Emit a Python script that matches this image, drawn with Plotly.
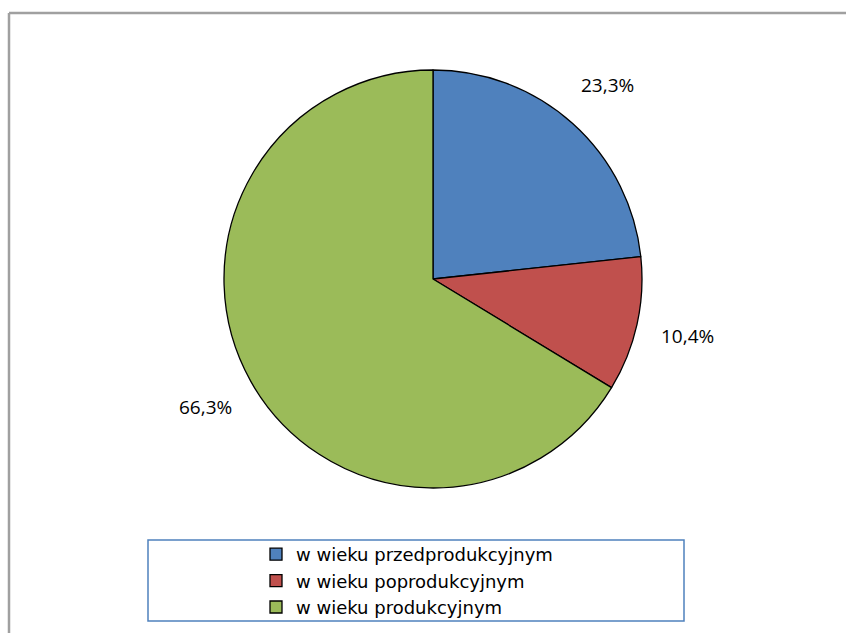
import math
import plotly.graph_objects as go

labels = ["w wieku przedprodukcyjnym", "w wieku poprodukcyjnym", "w wieku produkcyjnym"]
values = [23.3, 10.4, 66.3]
colors = ["#4F81BD", "#C0504D", "#9BBB59"]
text_labels = ["23,3%", "10,4%", "66,3%"]

W, H = 846, 633
cx, cy, R = 433, 279, 209
FONT = "Open Sans, Liberation Sans, sans-serif"

fig = go.Figure()
fig.add_trace(go.Pie(
    labels=labels, values=values, sort=False, direction="clockwise", rotation=0,
    marker=dict(colors=colors, line=dict(color="black", width=1.3)),
    textinfo="none", hoverinfo="label+percent",
    domain=dict(x=[(cx - R) / W, (cx + R) / W], y=[(H - cy - R) / H, (H - cy + R) / H]),
))

# outside data labels placed from slice mid-angles
total = sum(values)
cum = 0
annotations = []
for v, t in zip(values, text_labels):
    mid = (cum + v / 2) / total * 2 * math.pi
    cum += v
    r = R * 1.25
    px = cx + r * math.sin(mid)
    py = cy - r * math.cos(mid)
    annotations.append(dict(
        x=px / W, y=1 - py / H, xref="paper", yref="paper", text=t, showarrow=False,
        font=dict(family=FONT, size=19, color="black"),
        xanchor="center", yanchor="middle",
    ))

shapes = [
    dict(type="line", xref="paper", yref="paper", x0=9 / W, x1=1, y0=1 - 13 / H, y1=1 - 13 / H,
         line=dict(color="#A0A0A0", width=2.5)),
    dict(type="line", xref="paper", yref="paper", x0=9 / W, x1=9 / W, y0=0, y1=1 - 13 / H,
         line=dict(color="#A0A0A0", width=2.5)),
    dict(type="rect", xref="paper", yref="paper", x0=148 / W, x1=684 / W, y0=1 - 621 / H, y1=1 - 540 / H,
         line=dict(color="#4F81BD", width=1.5), fillcolor="rgba(0,0,0,0)"),
]

fig.update_layout(
    width=W, height=H, margin=dict(l=0, r=0, t=0, b=0),
    paper_bgcolor="white", plot_bgcolor="white",
    showlegend=True,
    legend=dict(x=256 / W, y=1 - 536 / H, xanchor="left", yanchor="top",
                font=dict(family="DejaVu Sans, sans-serif", size=18, color="black"),
                bgcolor="rgba(0,0,0,0)", tracegroupgap=0, itemwidth=30),
    annotations=annotations, shapes=shapes,
)

fig.write_html("out.html", config={"displayModeBar": False},
               post_script="document.body.style.margin='0';document.body.style.overflow='hidden';")
